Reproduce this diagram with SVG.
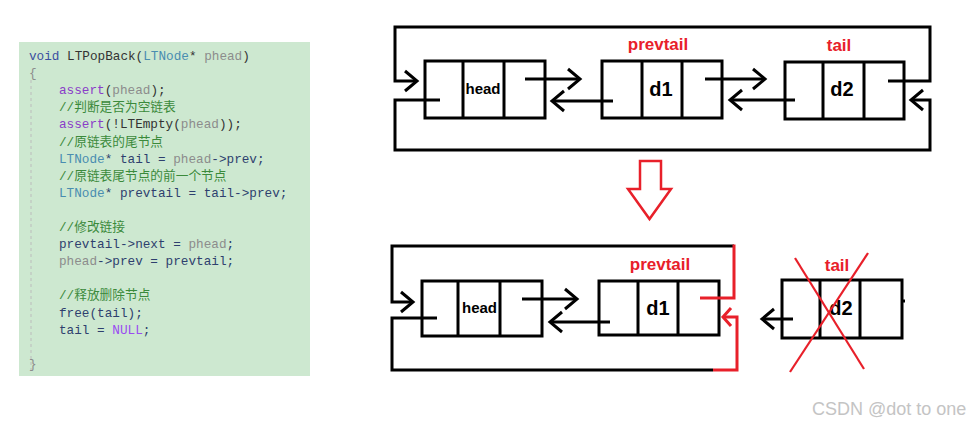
<svg xmlns="http://www.w3.org/2000/svg" width="970" height="426" viewBox="0 0 970 426">
<style>
.code{font-family:"Liberation Mono","Noto Sans CJK SC",monospace;font-size:12.7px;fill:#2e3f6e}
.kw{fill:#3c4fa0}.ty{fill:#4a8db0}.pa{fill:#8c8c8c}.fn{fill:#8a3cc8}.cm{fill:#3b8a3b}.dk{fill:#333}.nu{fill:#9a4cf0}
.box{fill:none;stroke:#000;stroke-width:3}
.ln{fill:none;stroke:#000;stroke-width:3}
.rl{fill:none;stroke:#e8202a;stroke-width:3}
.lbl{font-family:"Liberation Sans",Arial,sans-serif;font-weight:bold;fill:#000;text-anchor:middle}
.red{font-family:"Liberation Sans",Arial,sans-serif;font-weight:bold;fill:#e8202a;text-anchor:middle;font-size:17px}
</style>
<defs>
<marker id="ah" markerUnits="userSpaceOnUse" viewBox="-14 -12 16 24" refX="0" refY="0" markerWidth="16" markerHeight="24" orient="auto" overflow="visible">
<path d="M-12,-10 L0,0 L-12,10" fill="none" stroke="#000" stroke-width="3"/>
</marker>
<marker id="ahr" markerUnits="userSpaceOnUse" viewBox="-14 -12 16 24" refX="0" refY="0" markerWidth="16" markerHeight="24" orient="auto" overflow="visible">
<path d="M-8,-9 L0,0 L-8,9" fill="none" stroke="#e8202a" stroke-width="3"/>
</marker>
</defs>
<rect width="970" height="426" fill="#fff"/>

<g id="code">
<rect x="19" y="42" width="291" height="334" fill="#cde8d0"/>
<line x1="31" y1="80" x2="31" y2="372" stroke="#bcbcbc" stroke-width="1" stroke-dasharray="3,3"/>
<text class="code" x="29" y="60"><tspan class="kw">void</tspan><tspan class="dk"> LTPopBack(</tspan><tspan class="ty">LTNode</tspan><tspan class="dk">* </tspan><tspan class="pa">phead</tspan><tspan class="dk">)</tspan></text>
<text class="code pa" x="29" y="77.1">{</text>
<text class="code" x="59" y="94.2"><tspan class="fn">assert</tspan><tspan class="dk">(</tspan><tspan class="pa">phead</tspan><tspan class="dk">);</tspan></text>
<text class="code cm" x="59" y="111.3">//判断是否为空链表</text>
<text class="code" x="59" y="128.4"><tspan class="fn">assert</tspan><tspan class="dk">(!LTEmpty(</tspan><tspan class="pa">phead</tspan><tspan class="dk">));</tspan></text>
<text class="code cm" x="59" y="145.5">//原链表的尾节点</text>
<text class="code" x="59" y="162.6"><tspan class="ty">LTNode</tspan><tspan>* tail = </tspan><tspan class="pa">phead</tspan><tspan>-&gt;prev;</tspan></text>
<text class="code cm" x="59" y="179.7">//原链表尾节点的前一个节点</text>
<text class="code" x="59" y="196.8"><tspan class="ty">LTNode</tspan><tspan>* prevtail = tail-&gt;prev;</tspan></text>
<text class="code cm" x="59" y="231">//修改链接</text>
<text class="code" x="59" y="248.1"><tspan>prevtail-&gt;next = </tspan><tspan class="pa">phead</tspan><tspan>;</tspan></text>
<text class="code" x="59" y="265.2"><tspan class="pa">phead</tspan><tspan>-&gt;prev = prevtail;</tspan></text>
<text class="code cm" x="59" y="299.4">//释放删除节点</text>
<text class="code" x="59" y="316.5">free(tail);</text>
<text class="code" x="59" y="333.6"><tspan>tail = </tspan><tspan class="nu">NULL</tspan><tspan>;</tspan></text>
<text class="code pa" x="29" y="367.8">}</text>
</g>

<g id="top-head">
<rect class="box" x="425" y="61" width="120" height="57"/>
<line class="ln" x1="463" y1="61" x2="463" y2="118"/>
<line class="ln" x1="504" y1="61" x2="504" y2="118"/>
<text class="lbl" x="483" y="93.5" font-size="15">head</text>
</g>
<g id="top-d1">
<rect class="box" x="602" y="61" width="120" height="57"/>
<line class="ln" x1="642" y1="61" x2="642" y2="118"/>
<line class="ln" x1="682" y1="61" x2="682" y2="118"/>
<text class="lbl" x="661" y="96" font-size="20">d1</text>
<text class="red" x="658" y="50">prevtail</text>
</g>
<g id="top-d2">
<rect class="box" x="785" y="62" width="119" height="57"/>
<line class="ln" x1="823" y1="62" x2="823" y2="119"/>
<line class="ln" x1="864" y1="62" x2="864" y2="119"/>
<text class="lbl" x="842" y="96" font-size="20">d2</text>
<text class="red" x="839" y="51">tail</text>
</g>

<g id="down-arrow">
<path d="M640,161 L661,161 L661,189 L671,189 L649.5,219 L628,189 L640,189 Z" fill="#fff" stroke="#e8202a" stroke-width="2.5" stroke-linejoin="miter"/>
</g>

<g id="bot-head">
<rect class="box" x="422" y="281" width="120" height="55"/>
<line class="ln" x1="458" y1="281" x2="458" y2="336"/>
<line class="ln" x1="500" y1="281" x2="500" y2="336"/>
<text class="lbl" x="479.5" y="313" font-size="15">head</text>
</g>
<g id="bot-d1">
<rect class="box" x="599" y="281" width="120" height="54"/>
<line class="ln" x1="638" y1="281" x2="638" y2="335"/>
<line class="ln" x1="678" y1="281" x2="678" y2="335"/>
<text class="lbl" x="658" y="315" font-size="20">d1</text>
<text class="red" x="660" y="270">prevtail</text>
</g>
<g id="bot-d2">
<rect class="box" x="782" y="280" width="120" height="58"/>
<line class="ln" x1="820" y1="280" x2="820" y2="338"/>
<line class="ln" x1="860" y1="280" x2="860" y2="338"/>
<line class="ln" x1="902" y1="301" x2="905" y2="301"/>
<text class="lbl" x="841" y="315" font-size="20">d2</text>
<text class="red" x="837" y="271">tail</text>
<line x1="795" y1="258" x2="864" y2="369" stroke="#e8202a" stroke-width="2.2"/>
<line x1="868" y1="253" x2="790" y2="372" stroke="#e8202a" stroke-width="2.2"/>
</g>

<g id="connectors">
<polyline class="ln" points="888,81 930,81 930,27 395,27 395,81 417,81" marker-end="url(#ah)"/>
<polyline class="ln" points="440,100 395,100 395,150 930,150 930,100 911,100" marker-end="url(#ah)"/>
<line class="ln" x1="525" y1="79" x2="580" y2="79" marker-end="url(#ah)"/>
<line class="ln" x1="613" y1="101" x2="552" y2="101" marker-end="url(#ah)"/>
<line class="ln" x1="705" y1="79" x2="765" y2="79" marker-end="url(#ah)"/>
<line class="ln" x1="795" y1="100" x2="730" y2="100" marker-end="url(#ah)"/>

<polyline class="ln" points="734,246 392,246 392,302 413,302" marker-end="url(#ah)"/>
<polyline class="rl" points="700,298 734,298 734,244.5"/>
<polyline class="ln" points="437,318 392,318 392,370 713,370"/>
<polyline class="rl" points="713,370 737,370 737,317 723,317" marker-end="url(#ahr)"/>
<line class="ln" x1="522" y1="299" x2="577" y2="299" marker-end="url(#ah)"/>
<line class="ln" x1="610" y1="322" x2="550" y2="322" marker-end="url(#ah)"/>
<line class="ln" x1="793" y1="319" x2="762" y2="319" marker-end="url(#ah)"/>
</g>

<text x="812" y="415" font-family="'Liberation Sans',Arial,sans-serif" font-size="18" fill="#c4c4c4">CSDN @dot to one</text>
</svg>
